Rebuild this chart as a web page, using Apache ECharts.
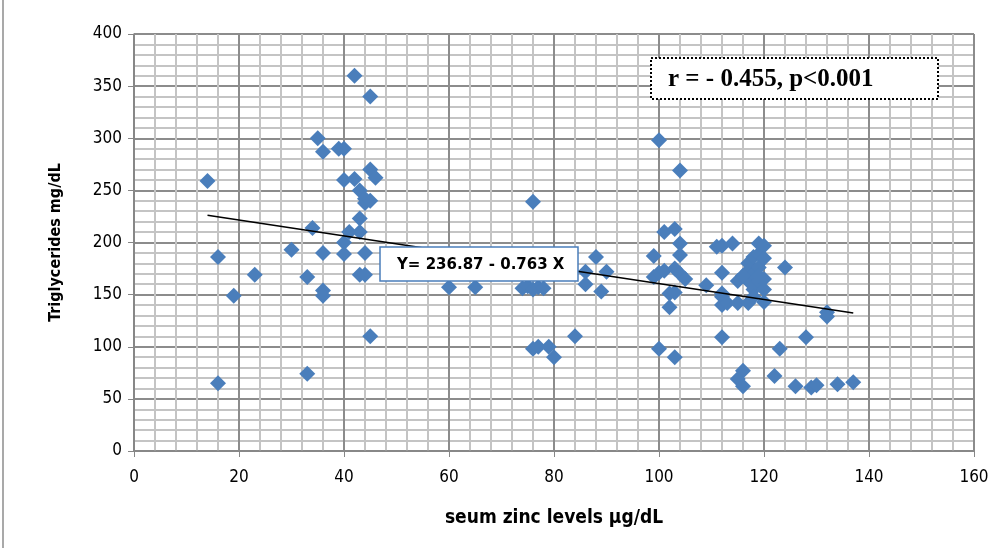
<!DOCTYPE html>
<html>
	<head>
		<meta charset="utf-8" />
		<title></title>
		<script src="https://cdn.jsdelivr.net/npm/echarts@6/dist/echarts.min.js" type="text/javascript" charset="utf-8"></script>
		<style type="text/css">
			html, body { margin: 0; padding: 0; background: #fff; }
			#chart { width: 1006px; height: 548px; }
		</style>
	</head>
	<body>
		<div id="chart"></div>
		<script type="text/javascript">
			// serum zinc (x) and triglycerides (y)
			var zinc = [14,16,16,19,23,30,33,33,34,35,36,36,36,36,39,40,40,40,40,41,42,42,43,43,43,43,44,44,44,44,45,45,45,45,46,
				60,65,74,75,76,77,78,76,76,77,79,80,84,86,86,88,89,90,
				99,99,100,100,100,101,101,102,102,103,103,103,103,104,104,104,104,105,109,111,112,112,112,112,112,112,113,114,115,115,116,115,116,
				117,117,117,117,118,118,118,119,119,119,119,119,120,120,120,120,116,118,120,124,123,122,128,126,129,130,132,132,134,137];
			var trig = [259,186,65,149,169,193,167,74,214,300,287,190,154,149,290,290,260,200,189,210,360,261,250,223,210,169,242,238,190,169,340,270,240,110,262,
				157,157,156,158,155,157,156,239,98,100,100,90,110,172,160,186,153,172,
				187,167,298,171,98,210,173,151,138,213,175,152,90,269,199,188,170,165,159,196,197,171,151,140,148,109,142,199,142,163,77,69,62,
				142,163,173,180,186,170,155,189,176,163,199,168,197,143,155,185,168,148,165,176,98,72,109,62,61,63,133,129,64,66];

			var xTicks = [0,20,40,60,80,100,120,140,160];
			var yTicks = [0,50,100,150,200,250,300,350,400];
			var trendX = [14,137];
			var intercept = 236.87, slope = -0.763;

			var points = [];
			for ( var i = 0 ; i < zinc.length ; i ++ ){
				points.push([zinc[i], trig[i]]);
			}
			var trend = [];
			for ( var j = 0 ; j < trendX.length ; j ++ ){
				trend.push([trendX[j], intercept + slope * trendX[j]]);
			}

			var labelFont = "'Liberation Sans Narrow','DejaVu Sans Condensed',sans-serif";

			var chart = echarts.init(document.getElementById("chart"));
			var option = {
				animation: false,
				backgroundColor: '#fff',
				grid: { left: 134, right: 32, top: 34, bottom: 97 },
				xAxis: {
					type: 'value',
					min: xTicks[0], max: xTicks[xTicks.length - 1], interval: 20,
					name: 'seum zinc levels µg/dL',
					nameLocation: 'middle', nameGap: 58,
					nameTextStyle: { fontSize: 19, fontWeight: 'bold', color: '#000', fontFamily: labelFont },
					axisLine: { show: true, onZero: false, lineStyle: { color: '#868686', width: 1.5 } },
					axisTick: { show: true, length: 6, lineStyle: { color: '#868686' } },
					axisLabel: { fontSize: 17, color: '#000', margin: 18, fontFamily: labelFont },
					splitLine: { show: true, lineStyle: { color: '#8c8c8c', width: 2 } },
					minorTick: { show: false, splitNumber: 5 },
					minorSplitLine: { show: true, lineStyle: { color: '#c4c4c4', width: 2 } }
				},
				yAxis: {
					type: 'value',
					min: yTicks[0], max: yTicks[yTicks.length - 1], interval: 50,
					name: 'Triglycerides mg/dL',
					nameLocation: 'middle', nameGap: 70, nameRotate: 90,
					nameTextStyle: { fontSize: 16, fontWeight: 'bold', color: '#000', fontFamily: labelFont },
					axisLine: { show: true, lineStyle: { color: '#868686', width: 1.5 } },
					axisTick: { show: true, length: 6, lineStyle: { color: '#868686' } },
					axisLabel: { fontSize: 17, color: '#000', margin: 12, fontFamily: labelFont },
					splitLine: { show: true, lineStyle: { color: '#8c8c8c', width: 2 } },
					minorTick: { show: false, splitNumber: 5 },
					minorSplitLine: { show: true, lineStyle: { color: '#c4c4c4', width: 2 } }
				},
				series: [
					{
						type: 'scatter',
						data: points,
						symbol: 'diamond',
						symbolSize: 16,
						itemStyle: { color: '#4a7ebb', opacity: 1 },
						z: 3
					},
					{
						type: 'line',
						data: trend,
						symbol: 'none',
						lineStyle: { color: '#000', width: 1.5 },
						z: 4
					}
				],
				graphic: [
					{ type: 'line', shape: { x1: 3, y1: 0, x2: 3, y2: 548 }, style: { stroke: '#8c8c8c', lineWidth: 1.5 } },
					{ type: 'rect', z: 100, shape: { x: 380, y: 247, width: 198, height: 34 }, style: { fill: '#fff', stroke: '#4a7ebb', lineWidth: 1.5 } },
					{ type: 'text', z: 101, x: 397, y: 265, style: { text: 'Y= 236.87 - 0.763 X', fill: '#000', font: 'bold 15px "DejaVu Sans", sans-serif', verticalAlign: 'middle' } },
					{ type: 'rect', z: 100, shape: { x: 651, y: 58, width: 287, height: 41 }, style: { fill: '#fff', stroke: '#000', lineWidth: 2, lineDash: [2, 2] } },
					{ type: 'text', z: 101, x: 668, y: 80, style: { text: 'r = - 0.455, p<0.001', fill: '#000', font: 'bold 25px "Liberation Serif", serif', verticalAlign: 'middle' } }
				]
			};
			chart.setOption(option);
		</script>
	</body>
</html>
